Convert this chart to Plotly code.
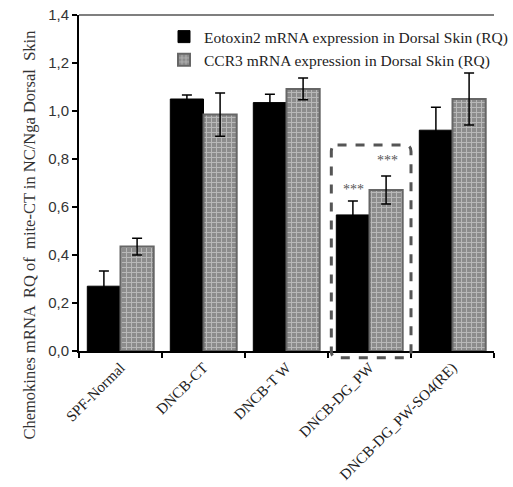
import plotly.graph_objects as go

categories = ["SPF-Normal", "DNCB-CT", "DNCB-T W", "DNCB-DG_PW", "DNCB-DG_PW-SO4(RE)"]
eotoxin2 = [0.27, 1.05, 1.035, 0.567, 0.92]
eotoxin2_err = [0.063, 0.017, 0.035, 0.058, 0.096]
ccr3 = [0.435, 0.985, 1.092, 0.671, 1.05]
ccr3_err = [0.035, 0.09, 0.045, 0.058, 0.108]
series_names = ["Eotoxin2 mRNA expression in Dorsal Skin (RQ)",
                "CCR3 mRNA expression in Dorsal Skin (RQ)"]
y_ticks = [0, 0.2, 0.4, 0.6, 0.8, 1.0, 1.2, 1.4]
y_ticktext = ["0,0", "0,2", "0,4", "0,6", "0,8", "1,0", "1,2", "1,4"]
y_title = "Chemokines mRNA  RQ of  mite-CT in NC/Nga Dorsal  Skin"

serif = "Liberation Serif, Times New Roman, serif"

fig = go.Figure()
fig.add_trace(go.Bar(
    x=categories, y=eotoxin2, name=series_names[0],
    marker=dict(color="black", line=dict(color="black", width=1)),
    error_y=dict(type="data", array=eotoxin2_err, visible=True,
                 color="black", thickness=1.5, width=5),
))
fig.add_trace(go.Bar(
    x=categories, y=ccr3, name=series_names[1],
    marker=dict(color="#909090",
                line=dict(color="#666666", width=2),
                pattern=dict(shape="+", bgcolor="#8c8c8c", fgcolor="#e6e6e6",
                             size=5, solidity=0.35)),
    error_y=dict(type="data", array=ccr3_err, visible=True,
                 color="black", thickness=1.5, width=5),
))

# significance marks
fig.add_annotation(x=categories[3], y=eotoxin2[3] + eotoxin2_err[3], xshift=-16,
                   yshift=12, text="***", showarrow=False,
                   font=dict(family=serif, size=14, color="#555555"))
fig.add_annotation(x=categories[3], y=ccr3[3] + ccr3_err[3], xshift=18,
                   yshift=16, text="***", showarrow=False,
                   font=dict(family=serif, size=14, color="#555555"))

# dashed rounded highlight box (paper coords)
x0, x1, y0, y1, r = 0.608, 0.80, -0.02, 0.613, 0.015
ry = r * 435 / 336
path = (f"M {x0+r},{y1} L {x1-r},{y1} Q {x1},{y1} {x1},{y1-ry} "
        f"L {x1},{y0+ry} Q {x1},{y0} {x1-r},{y0} L {x0+r},{y0} "
        f"Q {x0},{y0} {x0},{y0+ry} L {x0},{y1-ry} Q {x0},{y1} {x0+r},{y1} Z")
fig.add_shape(type="path", path=path, xref="paper", yref="paper",
              line=dict(color="#555555", width=3, dash="dash"))

# top frame line
fig.add_shape(type="line", xref="paper", yref="paper", x0=0, x1=1, y0=1, y1=1,
              line=dict(color="#555555", width=1.5))

fig.add_annotation(xref="paper", yref="paper", x=-0.147, y=0.345,
                   text=y_title, textangle=-90, showarrow=False,
                   font=dict(family=serif, size=16.5, color="#333333"))

fig.update_layout(
    width=513, height=487,
    margin=dict(l=79, r=0, t=15, b=136),
    plot_bgcolor="white", paper_bgcolor="white",
    barmode="group", bargap=0.2, bargroupgap=0,
    showlegend=True,
    legend=dict(x=0.205, y=0.985, xanchor="left", yanchor="top",
                bgcolor="rgba(0,0,0,0)", itemwidth=30, tracegroupgap=0,
                font=dict(family=serif, size=15.5, color="#222222")),
    xaxis=dict(showline=True, linecolor="black", linewidth=2, automargin=False,
               ticks="outside", tickson="boundaries", ticklen=5, tickwidth=2,
               tickcolor="black", tickangle=-45,
               tickfont=dict(family=serif, size=15, color="#222222")),
    yaxis=dict(range=[0, 1.4], tickvals=y_ticks, ticktext=y_ticktext,
               showline=True, linecolor="black", linewidth=2, automargin=False,
               ticks="outside", ticklen=5, tickwidth=2, tickcolor="black",
               showgrid=False, zeroline=False,
               tickfont=dict(family="Liberation Sans, Arial, sans-serif",
                             size=15, color="#333333")),
)

fig.write_html("out.html")
